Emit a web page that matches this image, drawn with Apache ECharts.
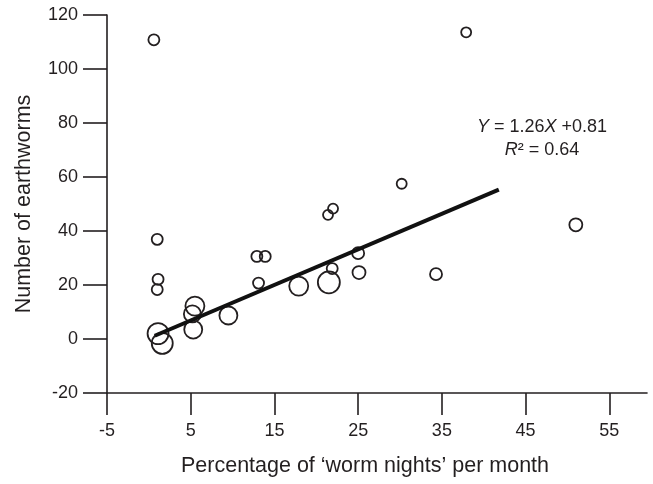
<!DOCTYPE html>
<html>
<head>
<meta charset="utf-8">
<script src="https://cdn.jsdelivr.net/npm/echarts@6/dist/echarts.min.js"></script>
<style>
html,body{margin:0;padding:0;background:#fff;}
#chart{width:653px;height:484px;}
</style>
</head>
<body>
<div id="chart"></div>
<script>
// Percentage of 'worm nights' per month (x), number of earthworms (y), bubble diameter (px)
var wormNights = [0.6, 37.9, 1.0, 1.1, 1.0, 1.1, 1.6, 5.5, 5.2, 5.3, 9.5, 12.9, 13.9, 13.1, 17.9, 21.5, 21.9, 21.4, 22.0, 25.0, 25.1, 30.2, 34.3, 51.0];
var earthworms = [110.8, 113.6, 36.9, 22.1, 18.3, 2.0, -1.6, 12.2, 9.3, 3.5, 8.7, 30.6, 30.6, 20.7, 19.6, 21.0, 26.1, 46.0, 48.3, 31.8, 24.6, 57.5, 24.0, 42.3];
var bubbleSize = [11, 10, 11, 11, 11, 21, 21, 19, 17, 18, 18, 11, 11, 11, 19, 22, 11, 10, 10, 12, 13, 10, 12, 13];
// regression line ends as drawn
var fitX = [0.7, 41.8];
var fitY = [1.2, 55.3];
var xTicks = [-5, 5, 15, 25, 35, 45, 55];
var yTicks = [-20, 0, 20, 40, 60, 80, 100, 120];

var points = wormNights.map(function (x, i) { return [x, earthworms[i], bubbleSize[i]]; });
var fitLine = fitX.map(function (x, i) { return [x, fitY[i]]; });

var font = '"Liberation Sans", Arial, Helvetica, sans-serif';
var ink = '#231f20';

var chart = echarts.init(document.getElementById('chart'), null, {renderer: 'canvas'});
chart.setOption({
  animation: false,
  backgroundColor: '#ffffff',
  grid: {left: 107, right: 6, top: 15, bottom: 91, containLabel: false},
  xAxis: {
    type: 'value',
    min: -5, max: 59.5,
    splitLine: {show: false},
    axisLine: {onZero: false, lineStyle: {color: ink, width: 1.6}},
    axisTick: {show: true, length: 22, customValues: xTicks, lineStyle: {color: ink, width: 1.6}},
    axisLabel: {customValues: xTicks, margin: 29, fontSize: 18, color: ink, fontFamily: font},
    name: 'Percentage of \u2018worm nights\u2019 per month',
    nameLocation: 'middle',
    nameGap: 62,
    nameTextStyle: {fontSize: 21.5, color: ink, fontFamily: font, padding: [0, 24, 0, 0]}
  },
  yAxis: {
    type: 'value',
    min: -20, max: 120, interval: 20,
    splitLine: {show: false},
    axisLine: {onZero: false, lineStyle: {color: ink, width: 1.6}},
    axisTick: {show: true, length: 24, customValues: yTicks, lineStyle: {color: ink, width: 1.6}},
    axisLabel: {customValues: yTicks, margin: 29, fontSize: 18, color: ink, fontFamily: font},
    name: 'Number of earthworms',
    nameLocation: 'middle',
    nameGap: 72,
    nameTextStyle: {fontSize: 21.5, color: ink, fontFamily: font}
  },
  series: [
    {
      type: 'scatter',
      data: points,
      symbol: 'circle',
      symbolSize: function (v) { return v[2]; },
      itemStyle: {color: 'rgba(255,255,255,0)', borderColor: ink, borderWidth: 1.8, opacity: 1},
      z: 2
    },
    {
      type: 'line',
      data: fitLine,
      symbol: 'none',
      lineStyle: {color: '#111', width: 4},
      z: 3
    }
  ],
  graphic: [
    {
      type: 'text',
      x: 542,
      y: 127,
      style: {
        text: '{i|Y} = 1.26{i|X} +0.81',
        fill: ink,
        font: '18px ' + font,
        align: 'center',
        verticalAlign: 'middle',
        rich: {
          i: {fontStyle: 'italic', fontSize: 18, fontFamily: font, fill: ink}
        }
      }
    },
    {
      type: 'text',
      x: 542,
      y: 150,
      style: {
        text: '{i|R}\u00b2 = 0.64',
        fill: ink,
        font: '18px ' + font,
        align: 'center',
        verticalAlign: 'middle',
        rich: {
          i: {fontStyle: 'italic', fontSize: 18, fontFamily: font, fill: ink}
        }
      }
    }
  ]
});
</script>
</body>
</html>
